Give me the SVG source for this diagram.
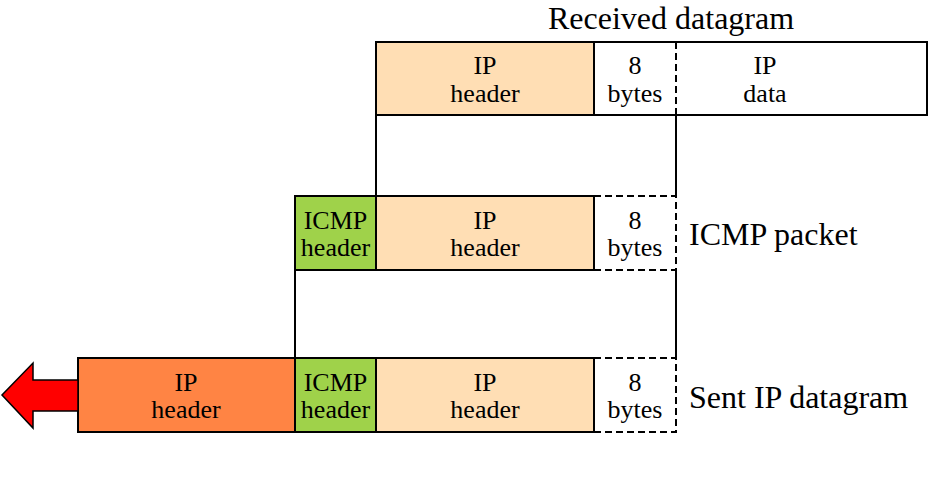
<svg xmlns="http://www.w3.org/2000/svg" width="929" height="493" viewBox="0 0 929 493">
<style>
.b{stroke:#000;stroke-width:2}
.d{stroke:#000;stroke-width:2;stroke-dasharray:7 4;fill:none}
.t{font-family:"Liberation Serif","Times New Roman",serif;font-size:26px;text-anchor:middle;fill:#000}
.l{font-family:"Liberation Serif","Times New Roman",serif;font-size:32px;fill:#000}
.ip{fill:#FFDEB4}
.ic{fill:#9FD24A}
.or{fill:#FF8444}
</style>
<rect width="929" height="493" fill="#fff"/>
<g id="connectors" fill="none" stroke="#000" stroke-width="2">
<line x1="376" y1="115" x2="376" y2="196"/>
<line x1="676" y1="115" x2="676" y2="196"/>
<line x1="676" y1="270" x2="676" y2="358"/>
<line x1="295" y1="270" x2="295" y2="358"/>
</g>
<g id="received">
<rect x="376" y="42" width="551" height="73" fill="#fff" class="b"/>
<rect x="376" y="42" width="218" height="73" class="ip b"/>
<line x1="676" y1="42" x2="676" y2="115" class="d"/>
<text class="t" x="485" y="74">IP</text>
<text class="t" x="485" y="102">header</text>
<text class="t" x="635" y="74">8</text>
<text class="t" x="635" y="102">bytes</text>
<text class="t" x="765" y="74">IP</text>
<text class="t" x="765" y="102">data</text>
<text class="l" x="548" y="29">Received datagram</text>
</g>
<g id="icmp">
<rect x="295" y="196" width="81" height="74" class="ic b"/>
<rect x="376" y="196" width="218" height="74" class="ip b"/>
<path d="M594 196H676V270H594" class="d"/>
<text class="t" x="335.5" y="229">ICMP</text>
<text class="t" x="335.5" y="256">header</text>
<text class="t" x="485" y="229">IP</text>
<text class="t" x="485" y="256">header</text>
<text class="t" x="635" y="229">8</text>
<text class="t" x="635" y="256">bytes</text>
<text class="l" x="689" y="245">ICMP packet</text>
</g>
<g id="sent">
<rect x="78" y="358" width="217" height="74" class="or b"/>
<rect x="295" y="358" width="81" height="74" class="ic b"/>
<rect x="376" y="358" width="218" height="74" class="ip b"/>
<path d="M594 358H676V432H594" class="d"/>
<text class="t" x="186" y="391">IP</text>
<text class="t" x="186" y="418">header</text>
<text class="t" x="335.5" y="391">ICMP</text>
<text class="t" x="335.5" y="418">header</text>
<text class="t" x="485" y="391">IP</text>
<text class="t" x="485" y="418">header</text>
<text class="t" x="635" y="391">8</text>
<text class="t" x="635" y="418">bytes</text>
<text class="l" x="689" y="408">Sent IP datagram</text>
</g>
<g id="arrow">
<path d="M78 380H33V363L2 395L33 428V411H78Z" fill="#FF0000" stroke="#000" stroke-width="1.5"/>
</g>
</svg>
